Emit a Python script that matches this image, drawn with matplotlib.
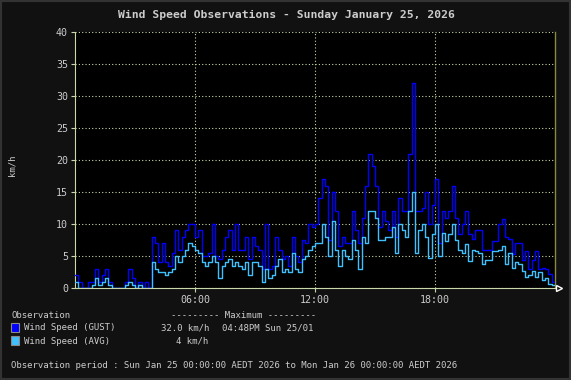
import numpy as np
import matplotlib
matplotlib.use('Agg')
import matplotlib.pyplot as plt
from matplotlib.patches import Rectangle

# wind readings, 10 minute steps from 00:00 to 24:00 (km/h)
gust = [2, 1, 0, 0, 1, 1,
        3, 1, 2, 3, 1, 0,
        0, 0, 0, 1, 3, 1.5,
        0, 1, 0, 1, 0, 8,
        7, 4, 7, 4, 3.5, 5.5,
        9, 6, 8, 9, 10, 10,
        8, 9, 5, 5, 5.5, 10,
        5, 4.5, 6, 8, 9, 6,
        10, 6, 6, 8, 4.5, 8,
        6.5, 6, 3, 10, 3, 3.5,
        8, 6, 4.5, 5, 3.5, 8,
        5, 4, 7.5, 7, 10, 9.5,
        10, 14, 17, 16, 7.5, 15,
        12, 6.5, 8, 7, 7, 12,
        9, 7, 11, 16, 21, 19,
        16, 9.5, 12, 10.5, 9, 12,
        8, 14, 12, 12, 21, 32,
        12, 12, 12.5, 15, 10, 13,
        17, 7, 12, 11, 12, 16,
        11, 8.5, 10, 12, 8.5, 7.6,
        9, 9, 6, 6, 6, 7.4,
        7.4, 10, 10.8, 8, 7.7, 5.3,
        7, 7, 4.3, 5.8, 3, 4.3,
        5.8, 3, 3.2, 3, 2.2, 0.9]
avg = [1, 0, 0, 0, 0, 0.5,
       1.5, 0.5, 1, 1.5, 0.5, 0,
       0, 0, 0, 0.5, 1, 0.5,
       0, 0.5, 0, 0, 0, 4,
       3, 2.5, 2.5, 2, 2.5, 3,
       5, 4, 5, 6, 7, 6.5,
       6, 5.5, 4, 3.5, 4, 5,
       4, 1.5, 3.5, 4, 4.5, 3.5,
       4, 3.5, 3, 4, 2, 4,
       4, 3.5, 1, 3, 1.5, 2,
       3.5, 4.5, 2.5, 3, 2.5, 5.5,
       3, 2.5, 4.5, 5, 6, 6.5,
       7, 7, 10, 8, 5, 10.5,
       6, 3.5, 6, 5, 4.5, 7.5,
       6, 3, 8, 7, 12, 12,
       11, 7.5, 7.5, 8, 8, 9.5,
       5.5, 10, 9, 8, 12, 15,
       5.5, 9, 10, 8, 4.7, 8.5,
       10, 5, 8.6, 7.3, 8.5, 10,
       7.5, 6, 5.5, 6.8, 4.2, 6,
       5.8, 5.5, 3.8, 4.3, 4.3, 5.8,
       5.8, 6, 6.6, 3.8, 5.5, 3.2,
       4, 3.7, 2.7, 1.7, 2, 2.7,
       1.7, 2.5, 1.2, 1.6, 0.6, 0.5]

hours = np.arange(len(gust) + 1) / 6.0
xticks = [6, 12, 18]
xticklabels = ['06:00', '12:00', '18:00']
yticks = [0, 5, 10, 15, 20, 25, 30, 35, 40]

W, H = 571, 380
bg = '#111111'
txt = '#cccccc'
gridc = '#c8d8a8'
gust_col = '#0000ff'
avg_col = '#40c0ff'

fig = plt.figure(figsize=(W / 100, H / 100), dpi=100, facecolor=bg)
ax = fig.add_axes([75 / W, 1 - 288 / H, 480 / W, 256 / H])
ax.set_facecolor('black')

g = np.append(gust, gust[-1])
a = np.append(avg, avg[-1])
ax.step(hours, g, where='post', color=gust_col, lw=1.0, zorder=3)
ax.step(hours, a, where='post', color=avg_col, lw=1.0, zorder=4)

ax.set_xlim(0, 24)
ax.set_ylim(0, 40)
ax.set_xticks(xticks)
ax.set_xticklabels(xticklabels)
ax.set_yticks(yticks)
ax.grid(True, color=gridc, linestyle=(0, (1, 2)), linewidth=0.8)
ax.set_axisbelow(True)
ax.tick_params(colors=txt, labelsize=7.2, length=3, width=0.8, pad=2)
ax.tick_params(axis='x', color=gridc)
ax.tick_params(axis='y', color=gridc)
for lab in ax.get_xticklabels() + ax.get_yticklabels():
    lab.set_family('DejaVu Sans Mono')

for s in ['left', 'bottom']:
    ax.spines[s].set_color(gridc)
    ax.spines[s].set_linewidth(0.8)
ax.spines['top'].set_visible(False)
ax.spines['right'].set_color('#8a8a3a')
ax.spines['right'].set_linewidth(1.0)

# arrow at the end of the time axis
ax.plot([24.2], [0], marker='>', color='white', markerfacecolor='none',
        markersize=5, clip_on=False, zorder=6)

fig.text(12 / W, 1 - 165 / H, 'km/h', rotation=90, color=txt, fontsize=6.5,
         family='DejaVu Sans Mono', ha='center', va='center')

fig.text(286 / W, 1 - 15 / H, 'Wind Speed Observations - Sunday January 25, 2026',
         color=txt, fontsize=8.2, fontweight='bold', family='DejaVu Sans Mono',
         ha='center', va='center')


def px_text(x, y, s):
    fig.text(x / W, 1 - y / H, s, color=txt, fontsize=6.5,
             family='DejaVu Sans Mono', ha='left', va='center')


px_text(11, 315, 'Observation')
px_text(171, 315, '--------- Maximum ---------')
px_text(24, 328, 'Wind Speed (GUST)')
px_text(161, 328, '32.0 km/h')
px_text(222, 328, '04:48PM Sun 25/01')
px_text(24, 341, 'Wind Speed (AVG)')
px_text(176, 341, '4 km/h')
px_text(11, 366, 'Observation period : Sun Jan 25 00:00:00 AEDT 2026 to Mon Jan 26 00:00:00 AEDT 2026')

for yy, col in [(323, gust_col), (336, avg_col)]:
    fig.patches.append(Rectangle((11 / W, 1 - (yy + 9) / H), 8 / W, 9 / H,
                                 transform=fig.transFigure, facecolor=col,
                                 edgecolor='#888888', linewidth=0.8))

fig.patches.append(Rectangle((0, 0), 1, 1, transform=fig.transFigure,
                             facecolor='none', edgecolor='#333333', linewidth=3))

fig.savefig('out.png', dpi=100, facecolor=bg)
